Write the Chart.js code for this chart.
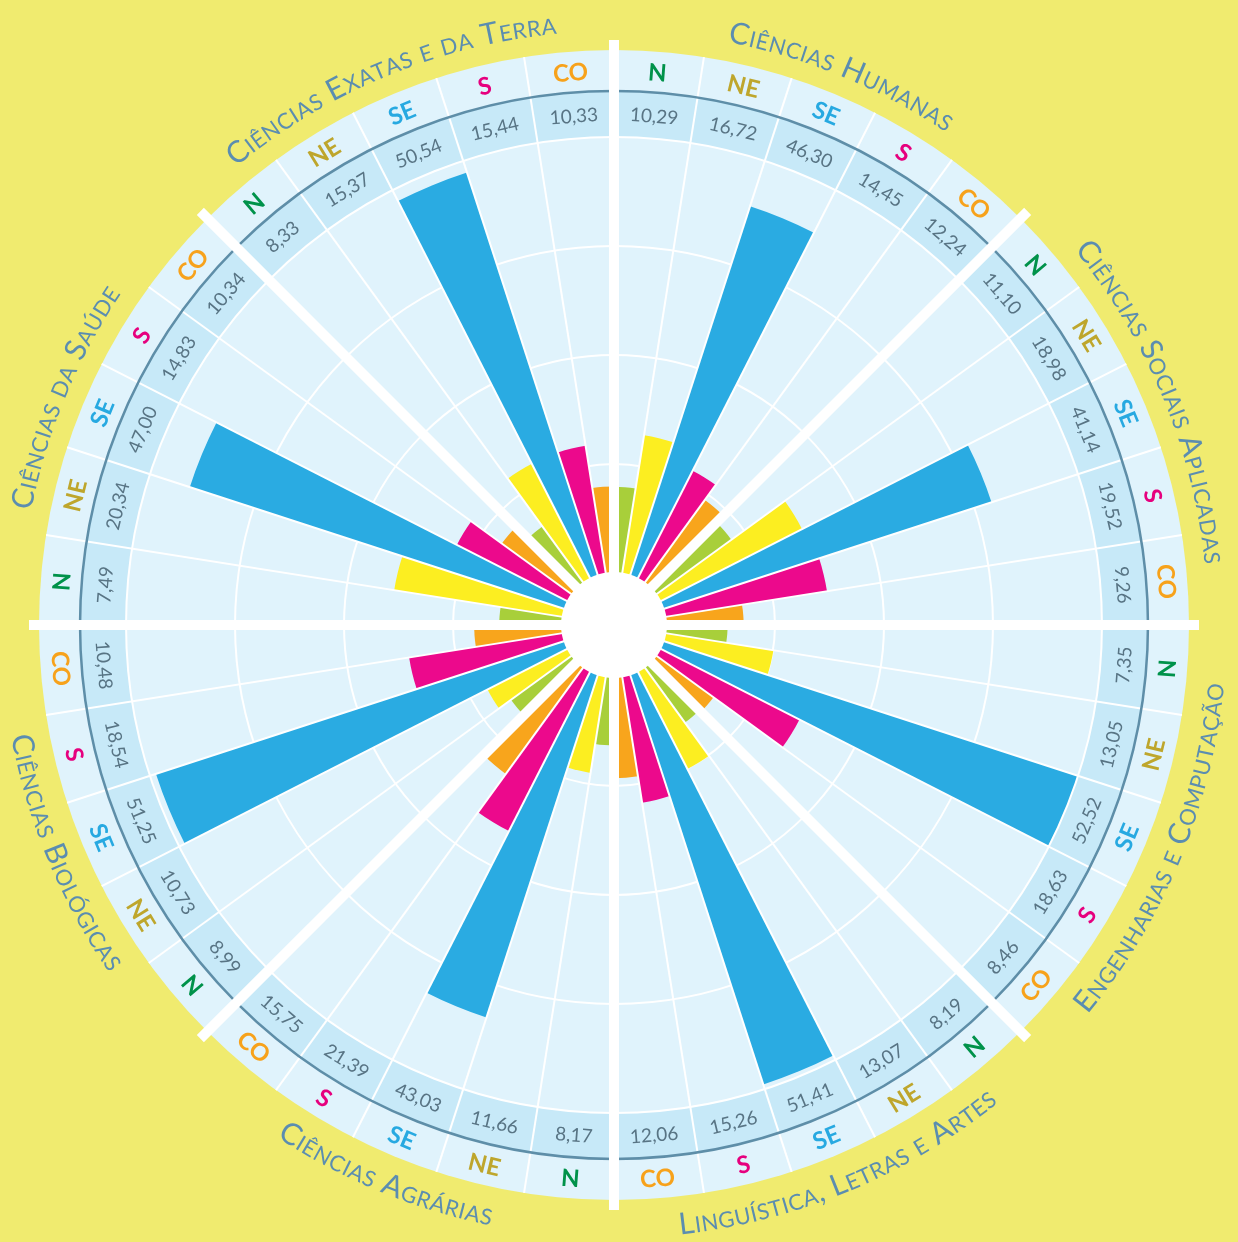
<!DOCTYPE html>
<html>
<head>
<meta charset="utf-8">
<script src="https://cdn.jsdelivr.net/npm/chart.js@4.4.1/dist/chart.umd.min.js"></script>
<style>
  html, body { margin: 0; padding: 0; background: #f0eb6f; }
  #wrap { width: 1238px; height: 1242px; }
</style>
</head>
<body>
<div id="wrap"><canvas id="chart"></canvas></div>
<script>
// areas, clockwise from the top
const areas = [
  "Ciências Humanas",
  "Ciências Sociais Aplicadas",
  "Engenharias e Computação",
  "Linguística, Letras e Artes",
  "Ciências Agrárias",
  "Ciências Biológicas",
  "Ciências da Saúde",
  "Ciências Exatas e da Terra",
]
const regions = ["N", "NE", "SE", "S", "CO"]

// % per region, order N, NE, SE, S, CO
const humanas = [10.29, 16.72, 46.30, 14.45, 12.24]
const sociais = [11.10, 18.98, 41.14, 19.52, 9.26]
const engenharias = [7.35, 13.05, 52.52, 18.63, 8.46]
const linguistica = [8.19, 13.07, 51.41, 15.26, 12.06]
const agrarias = [8.17, 11.66, 43.03, 21.39, 15.75]
const biologicas = [8.99, 10.73, 51.25, 18.54, 10.48]
const saude = [7.49, 20.34, 47.00, 14.83, 10.34]
const exatas = [8.33, 15.37, 50.54, 15.44, 10.33]

const gridTicks = [13, 26, 39]

const barColors = ["#a8cf3a", "#fcee21", "#2aabe2", "#ec098c", "#f8a51c"]
const regionColors = ["#00924a", "#bea62c", "#27a9e1", "#e6007e", "#f7a21b"]

const allValues = [humanas, sociais, engenharias, linguistica, agrarias, biologicas, saude, exatas].flat()
const labels = areas.flatMap(a => regions.map(r => a + " " + r))
const topAreas = [0, 1, 6, 7]

const fmt = v => v.toFixed(2).replace(".", ",")

// small caps along an arc, one glyph at a time
function arcText(ctx, text, cx, cy, r, centerAng, top, big, small, spacing) {
  const parts = [...text].map(ch => {
    const low = ch !== ch.toUpperCase()
    const font = (low ? small : big) + "px Lato"
    ctx.font = font
    const c = ch.toUpperCase()
    return { c, font, w: ctx.measureText(c).width }
  })
  const total = parts.reduce((a, p) => a + p.w + spacing, 0) - spacing
  let acc = 0
  parts.forEach(p => {
    const mid = (acc + p.w / 2) / r
    const a = top ? centerAng - total / 2 / r + mid : centerAng + total / 2 / r - mid
    ctx.save()
    ctx.translate(cx + r * Math.sin(a), cy - r * Math.cos(a))
    ctx.rotate(top ? a : a - Math.PI)
    ctx.font = p.font
    ctx.textAlign = "center"
    ctx.textBaseline = "alphabetic"
    ctx.fillText(p.c, 0, 0)
    ctx.restore()
    acc += p.w + spacing
  })
}

function circle(ctx, cx, cy, r) {
  ctx.beginPath()
  ctx.arc(cx, cy, r, 0, Math.PI * 2)
}

const decor = {
  id: "decor",
  beforeDraw(chart) {
    const ctx = chart.ctx
    const s = chart.scales.r
    ctx.save()
    ctx.fillStyle = "#f0eb6f"
    ctx.fillRect(0, 0, chart.width, chart.height)
    circle(ctx, s.xCenter, s.yCenter, s.drawingArea)
    ctx.fillStyle = "#e0f3fc"
    ctx.fill()
    ctx.restore()
  },
  afterDatasetsDraw(chart) {
    const ctx = chart.ctx
    const s = chart.scales.r
    const cx = s.xCenter, cy = s.yCenter
    const R = s.drawingArea
    const r0 = s.getDistanceFromCenterForValue(0)
    const rIn = s.getDistanceFromCenterForValue(52)
    const rLine = rIn + 46
    const n = allValues.length
    const step = Math.PI * 2 / n
    ctx.save()

    // value ring
    ctx.beginPath()
    ctx.arc(cx, cy, rLine, 0, Math.PI * 2)
    ctx.arc(cx, cy, rIn, 0, Math.PI * 2, true)
    ctx.fillStyle = "#c7e9f8"
    ctx.fill()
    circle(ctx, cx, cy, rIn)
    ctx.strokeStyle = "#fff"
    ctx.lineWidth = 2
    ctx.stroke()

    // thin spokes
    ctx.lineWidth = 2
    ctx.strokeStyle = "#fff"
    for (let i = 0; i < n; i++) {
      const a = i * step
      ctx.beginPath()
      ctx.moveTo(cx + r0 * Math.sin(a), cy - r0 * Math.cos(a))
      ctx.lineTo(cx + R * Math.sin(a), cy - R * Math.cos(a))
      ctx.stroke()
    }

    circle(ctx, cx, cy, rLine)
    ctx.strokeStyle = "#5e8ea8"
    ctx.lineWidth = 2.5
    ctx.stroke()

    // thick sector lines
    ctx.lineWidth = 10
    ctx.strokeStyle = "#fff"
    for (let k = 0; k < areas.length; k++) {
      const a = k * step * regions.length
      ctx.beginPath()
      ctx.moveTo(cx + r0 * Math.sin(a), cy - r0 * Math.cos(a))
      ctx.lineTo(cx + (R + 10) * Math.sin(a), cy - (R + 10) * Math.cos(a))
      ctx.stroke()
    }

    // hole
    circle(ctx, cx, cy, r0 + 1)
    ctx.fillStyle = "#fff"
    ctx.fill()

    // values and region labels
    ctx.textAlign = "center"
    ctx.textBaseline = "middle"
    for (let i = 0; i < n; i++) {
      const a = (i + 0.5) * step
      const top = topAreas.includes(Math.floor(i / regions.length))
      const rot = top ? a : a - Math.PI
      const rv = (rIn + rLine) / 2
      ctx.save()
      ctx.translate(cx + rv * Math.sin(a), cy - rv * Math.cos(a))
      ctx.rotate(rot)
      ctx.font = "19px Lato"
      ctx.fillStyle = "#587484"
      ctx.fillText(fmt(allValues[i]), 0, 1)
      ctx.restore()

      const rr = (rLine + R) / 2
      ctx.save()
      ctx.translate(cx + rr * Math.sin(a), cy - rr * Math.cos(a))
      ctx.rotate(rot)
      ctx.font = "bold 24px Lato"
      ctx.fillStyle = regionColors[i % regions.length]
      ctx.fillText(regions[i % regions.length], 0, 1)
      ctx.restore()
    }

    // area names
    ctx.fillStyle = "#5b8db0"
    areas.forEach((name, k) => {
      const top = topAreas.includes(k)
      const a = (k + 0.5) * step * regions.length
      arcText(ctx, name, cx, cy, top ? R + 19 : R + 38, a, top, 30, 22, 0.6)
    })
    ctx.restore()
  },
}

new Chart(document.getElementById("chart"), {
  type: "polarArea",
  data: {
    labels,
    datasets: [{
      data: allValues,
      backgroundColor: allValues.map((v, i) => barColors[i % regions.length]),
      borderWidth: 0,
    }],
  },
  options: {
    responsive: true,
    maintainAspectRatio: false,
    animation: false,
    layout: { padding: { left: 39, right: 49, top: 50, bottom: 42 } },
    plugins: { legend: { display: false }, tooltip: { enabled: false } },
    scales: {
      r: {
        min: -6.2,
        max: 62.38,
        startAngle: 0,
        ticks: { display: false },
        grid: { color: "#fff", lineWidth: 2 },
        angleLines: { display: false },
        pointLabels: { display: false },
        afterBuildTicks: s => { s.ticks = gridTicks.map(v => ({ value: v })) },
      },
    },
  },
  plugins: [decor],
})
</script>
</body>
</html>
